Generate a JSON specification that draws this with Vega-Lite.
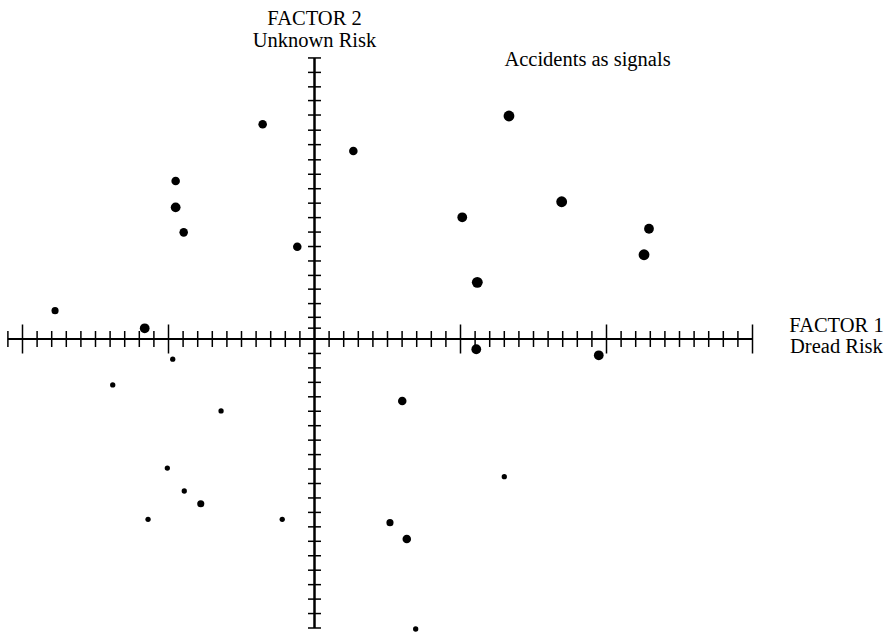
{
  "$schema": "https://vega.github.io/schema/vega-lite/v6.json",
  "autosize": {"type": "none"},
  "padding": 0,
  "width": 891,
  "height": 632,
  "background": "white",
  "view": {"stroke": null},
  "config": {"text": {"font": "Liberation Serif", "fontSize": 20.5, "color": "black"}},
  "datasets": {
    "points": [
      {"dread": -17.77, "unknown": 1.96, "signal": 2},
      {"dread": -11.63, "unknown": 0.74, "signal": 4},
      {"dread": -9.71, "unknown": -1.40, "signal": 1},
      {"dread": -13.82, "unknown": -3.18, "signal": 1},
      {"dread": -6.40, "unknown": -4.98, "signal": 1},
      {"dread": -10.08, "unknown": -8.93, "signal": 1},
      {"dread": -8.92, "unknown": -10.52, "signal": 1},
      {"dread": -7.79, "unknown": -11.40, "signal": 2},
      {"dread": -11.40, "unknown": -12.48, "signal": 1},
      {"dread": -2.21, "unknown": -12.48, "signal": 1},
      {"dread": -9.51, "unknown": 10.93, "signal": 3},
      {"dread": -9.51, "unknown": 9.11, "signal": 4},
      {"dread": -8.96, "unknown": 7.38, "signal": 3},
      {"dread": -3.55, "unknown": 14.86, "signal": 3},
      {"dread": -1.18, "unknown": 6.39, "signal": 3},
      {"dread": 2.66, "unknown": 13.01, "signal": 3},
      {"dread": 13.32, "unknown": 15.43, "signal": 5},
      {"dread": 10.12, "unknown": 8.42, "signal": 4},
      {"dread": 16.93, "unknown": 9.50, "signal": 5},
      {"dread": 22.91, "unknown": 7.63, "signal": 4},
      {"dread": 22.57, "unknown": 5.83, "signal": 5},
      {"dread": 11.15, "unknown": 3.92, "signal": 5},
      {"dread": 11.08, "unknown": -0.71, "signal": 4},
      {"dread": 19.47, "unknown": -1.13, "signal": 4},
      {"dread": 6.01, "unknown": -4.29, "signal": 3},
      {"dread": 13.00, "unknown": -9.53, "signal": 1},
      {"dread": 5.17, "unknown": -12.71, "signal": 2},
      {"dread": 6.32, "unknown": -13.84, "signal": 3},
      {"dread": 6.93, "unknown": -20.07, "signal": 1}
    ],
    "xminor": [
      {"t": -21}, {"t": -19}, {"t": -18}, {"t": -17}, {"t": -16}, {"t": -15}, {"t": -14}, {"t": -13}, {"t": -12}, {"t": -11},
      {"t": -9}, {"t": -8}, {"t": -7}, {"t": -6}, {"t": -5}, {"t": -4}, {"t": -3}, {"t": -2}, {"t": -1},
      {"t": 1}, {"t": 2}, {"t": 3}, {"t": 4}, {"t": 5}, {"t": 6}, {"t": 7}, {"t": 8}, {"t": 9},
      {"t": 11}, {"t": 12}, {"t": 13}, {"t": 14}, {"t": 15}, {"t": 16}, {"t": 17}, {"t": 18}, {"t": 19},
      {"t": 21}, {"t": 22}, {"t": 23}, {"t": 24}, {"t": 25}, {"t": 26}, {"t": 27}, {"t": 28}, {"t": 29}
    ],
    "xmajor": [{"t": -20}, {"t": -10}, {"t": 10}, {"t": 20}, {"t": 30}],
    "yminor": [
      {"t": 19.45}, {"t": 18.45}, {"t": 17.45}, {"t": 16.5}, {"t": 15.5}, {"t": 14.45}, {"t": 13.45}, {"t": 12.4}, {"t": 11.4}, {"t": 10.4},
      {"t": 9.4}, {"t": 8.4}, {"t": 7.4}, {"t": 6.4}, {"t": 5.4}, {"t": 4.4}, {"t": 3.45}, {"t": 2.45}, {"t": 1.5}, {"t": 0.75},
      {"t": -1}, {"t": -2}, {"t": -3}, {"t": -4}, {"t": -5}, {"t": -6}, {"t": -7}, {"t": -8}, {"t": -9}, {"t": -10},
      {"t": -11}, {"t": -12}, {"t": -13}, {"t": -14}, {"t": -15}, {"t": -16}, {"t": -17}, {"t": -18}, {"t": -19}, {"t": -20}
    ],
    "one": [{}]
  },
  "layer": [
    {
      "data": {"name": "one"},
      "mark": {"type": "rule", "color": "black", "strokeWidth": 2},
      "encoding": {
        "x": {"datum": -21, "type": "quantitative", "scale": {"domain": [-21.541, 39.486], "nice": false, "zero": false}, "axis": null},
        "x2": {"datum": 30},
        "y": {"datum": 0, "type": "quantitative", "scale": {"domain": [-20.277, 23.46], "nice": false, "zero": false}, "axis": null}
      }
    },
    {
      "data": {"name": "one"},
      "mark": {"type": "rule", "color": "black", "strokeWidth": 2.5},
      "encoding": {
        "x": {"datum": 0, "type": "quantitative", "scale": {"domain": [-21.541, 39.486], "nice": false, "zero": false}, "axis": null},
        "y": {"datum": -20, "type": "quantitative", "scale": {"domain": [-20.277, 23.46], "nice": false, "zero": false}, "axis": null},
        "y2": {"datum": 19.45}
      }
    },
    {
      "data": {"name": "xminor"},
      "mark": {"type": "tick", "orient": "vertical", "size": 16, "thickness": 1.5, "color": "black", "opacity": 1},
      "encoding": {
        "x": {"field": "t", "type": "quantitative", "scale": {"domain": [-21.541, 39.486], "nice": false, "zero": false}, "axis": null},
        "y": {"datum": 0, "type": "quantitative", "scale": {"domain": [-20.277, 23.46], "nice": false, "zero": false}, "axis": null}
      }
    },
    {
      "data": {"name": "xmajor"},
      "mark": {"type": "tick", "orient": "vertical", "size": 29, "thickness": 1.5, "color": "black", "opacity": 1},
      "encoding": {
        "x": {"field": "t", "type": "quantitative", "scale": {"domain": [-21.541, 39.486], "nice": false, "zero": false}, "axis": null},
        "y": {"datum": 0, "type": "quantitative", "scale": {"domain": [-20.277, 23.46], "nice": false, "zero": false}, "axis": null}
      }
    },
    {
      "data": {"name": "yminor"},
      "mark": {"type": "tick", "orient": "horizontal", "size": 13, "thickness": 1.5, "color": "black", "opacity": 1},
      "encoding": {
        "x": {"datum": 0, "type": "quantitative", "scale": {"domain": [-21.541, 39.486], "nice": false, "zero": false}, "axis": null},
        "y": {"field": "t", "type": "quantitative", "scale": {"domain": [-20.277, 23.46], "nice": false, "zero": false}, "axis": null}
      }
    },
    {
      "data": {"name": "points"},
      "mark": {"type": "circle", "color": "black", "opacity": 1},
      "encoding": {
        "x": {"field": "dread", "type": "quantitative", "scale": {"domain": [-21.541, 39.486], "nice": false, "zero": false}, "axis": null},
        "y": {"field": "unknown", "type": "quantitative", "scale": {"domain": [-20.277, 23.46], "nice": false, "zero": false}, "axis": null},
        "size": {"field": "signal", "type": "quantitative", "scale": {"domain": [1, 5], "range": [28, 118]}, "legend": null}
      }
    },
    {
      "data": {"name": "one"},
      "mark": {"type": "text", "align": "center", "baseline": "alphabetic", "text": "FACTOR 2"},
      "encoding": {
        "x": {"datum": 0, "type": "quantitative", "scale": {"domain": [-21.541, 39.486], "nice": false, "zero": false}, "axis": null},
        "y": {"datum": 21.73, "type": "quantitative", "scale": {"domain": [-20.277, 23.46], "nice": false, "zero": false}, "axis": null}
      }
    },
    {
      "data": {"name": "one"},
      "mark": {"type": "text", "align": "center", "baseline": "alphabetic", "text": "Unknown Risk"},
      "encoding": {
        "x": {"datum": 0, "type": "quantitative", "scale": {"domain": [-21.541, 39.486], "nice": false, "zero": false}, "axis": null},
        "y": {"datum": 20.24, "type": "quantitative", "scale": {"domain": [-20.277, 23.46], "nice": false, "zero": false}, "axis": null}
      }
    },
    {
      "data": {"name": "one"},
      "mark": {"type": "text", "align": "center", "baseline": "alphabetic", "text": "Accidents as signals"},
      "encoding": {
        "x": {"datum": 18.7, "type": "quantitative", "scale": {"domain": [-21.541, 39.486], "nice": false, "zero": false}, "axis": null},
        "y": {"datum": 18.86, "type": "quantitative", "scale": {"domain": [-20.277, 23.46], "nice": false, "zero": false}, "axis": null}
      }
    },
    {
      "data": {"name": "one"},
      "mark": {"type": "text", "align": "center", "baseline": "alphabetic", "text": "FACTOR 1"},
      "encoding": {
        "x": {"datum": 35.75, "type": "quantitative", "scale": {"domain": [-21.541, 39.486], "nice": false, "zero": false}, "axis": null},
        "y": {"datum": 0.48, "type": "quantitative", "scale": {"domain": [-20.277, 23.46], "nice": false, "zero": false}, "axis": null}
      }
    },
    {
      "data": {"name": "one"},
      "mark": {"type": "text", "align": "center", "baseline": "alphabetic", "text": "Dread Risk"},
      "encoding": {
        "x": {"datum": 35.75, "type": "quantitative", "scale": {"domain": [-21.541, 39.486], "nice": false, "zero": false}, "axis": null},
        "y": {"datum": -0.97, "type": "quantitative", "scale": {"domain": [-20.277, 23.46], "nice": false, "zero": false}, "axis": null}
      }
    }
  ]
}
